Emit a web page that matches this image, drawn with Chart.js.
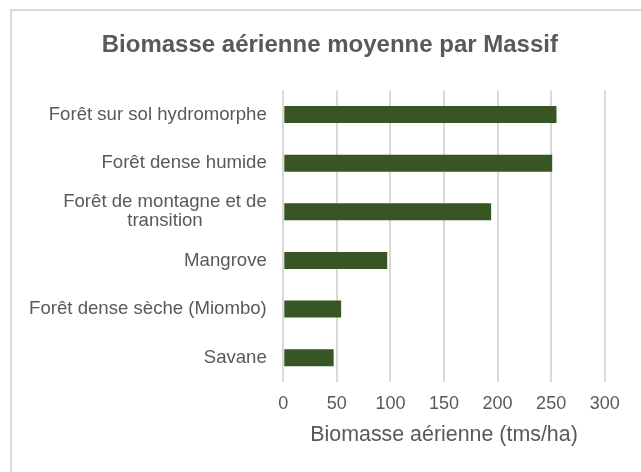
<!DOCTYPE html>
<html>
<head>
<meta charset="utf-8">
<script src="https://cdn.jsdelivr.net/npm/chart.js@4.4.1/dist/chart.umd.min.js"></script>
<style>
  html, body { margin: 0; padding: 0; background: #ffffff; overflow: hidden; }
  #frame { position: absolute; left: 10px; top: 9px; width: 700px; height: 520px; border: 2px solid #d9d9d9; box-sizing: border-box; }
  #wrap { position: absolute; left: 0; top: 0; width: 641px; height: 472px; }
</style>
</head>
<body>
<div id="frame"></div>
<div id="wrap"><canvas id="c" width="641" height="472"></canvas></div>
<script>
const titleText = 'Biomasse aérienne moyenne par Massif';
const axisTitle = 'Biomasse aérienne (tms/ha)';
const categories = [
  'Forêt sur sol hydromorphe',
  'Forêt dense humide',
  ['Forêt de montagne et de', 'transition'],
  'Mangrove',
  'Forêt dense sèche (Miombo)',
  'Savane'
];
const values = [255, 251, 194, 97, 54, 47];
const xTicks = [0, 50, 100, 150, 200, 250, 300];

const FONT = "'Liberation Sans', Arial, sans-serif";
const TEXT = '#595959';
const LABEL_SIZE = 18.6;
const LABEL_LINE = 19;
const LABEL_GAP = 16.5;

const centeredLabels = {
  id: 'centeredLabels',
  afterDraw(chart) {
    const ys = chart.scales.y;
    const ctx = chart.ctx;
    ctx.save();
    ctx.font = LABEL_SIZE + 'px ' + FONT;
    ctx.fillStyle = TEXT;
    ctx.textAlign = 'center';
    ctx.textBaseline = 'middle';
    const right = chart.chartArea.left - LABEL_GAP;
    categories.forEach((lab, i) => {
      const lines = Array.isArray(lab) ? lab : [lab];
      const w = Math.max(...lines.map(l => ctx.measureText(l).width));
      const cy = ys.getPixelForTick(i);
      const start = cy - (lines.length - 1) * LABEL_LINE / 2;
      lines.forEach((l, k) => ctx.fillText(l, right - w / 2, start + k * LABEL_LINE));
    });
    ctx.restore();
  }
};

new Chart(document.getElementById('c'), {
  type: 'bar',
  data: {
    labels: categories,
    datasets: [{
      data: values,
      backgroundColor: '#375623',
      borderWidth: 0,
      categoryPercentage: 1,
      barPercentage: 0.35
    }]
  },
  options: {
    indexAxis: 'y',
    responsive: false,
    animation: false,
    layout: { padding: { left: 55, right: 36.3, top: 0, bottom: 0 } },
    plugins: {
      legend: { display: false },
      tooltip: { enabled: false },
      title: {
        display: true,
        text: titleText,
        color: TEXT,
        font: { family: FONT, size: 24, weight: 'bold', lineHeight: 1.2 },
        padding: { top: 30.5, bottom: 31 }
      }
    },
    scales: {
      x: {
        min: 0,
        max: 300,
        afterBuildTicks: s => { s.ticks = xTicks.map(v => ({ value: v })); },
        afterFit: s => { s.height = 90; },
        grid: { color: '#d9d9d9', lineWidth: 2, drawTicks: false },
        border: { display: false },
        ticks: { color: TEXT, font: { family: FONT, size: 18, lineHeight: 1.2 }, padding: 11 },
        title: {
          display: true,
          text: axisTitle,
          color: TEXT,
          font: { family: FONT, size: 21.4, lineHeight: 1.2 },
          padding: { top: 0, bottom: 24.5 }
        }
      },
      y: {
        grid: { display: false, drawTicks: false },
        border: { display: false },
        ticks: { display: false },
        afterFit: s => { s.width = 283.3 - 55; }
      }
    }
  },
  plugins: [centeredLabels]
});
</script>
</body>
</html>
